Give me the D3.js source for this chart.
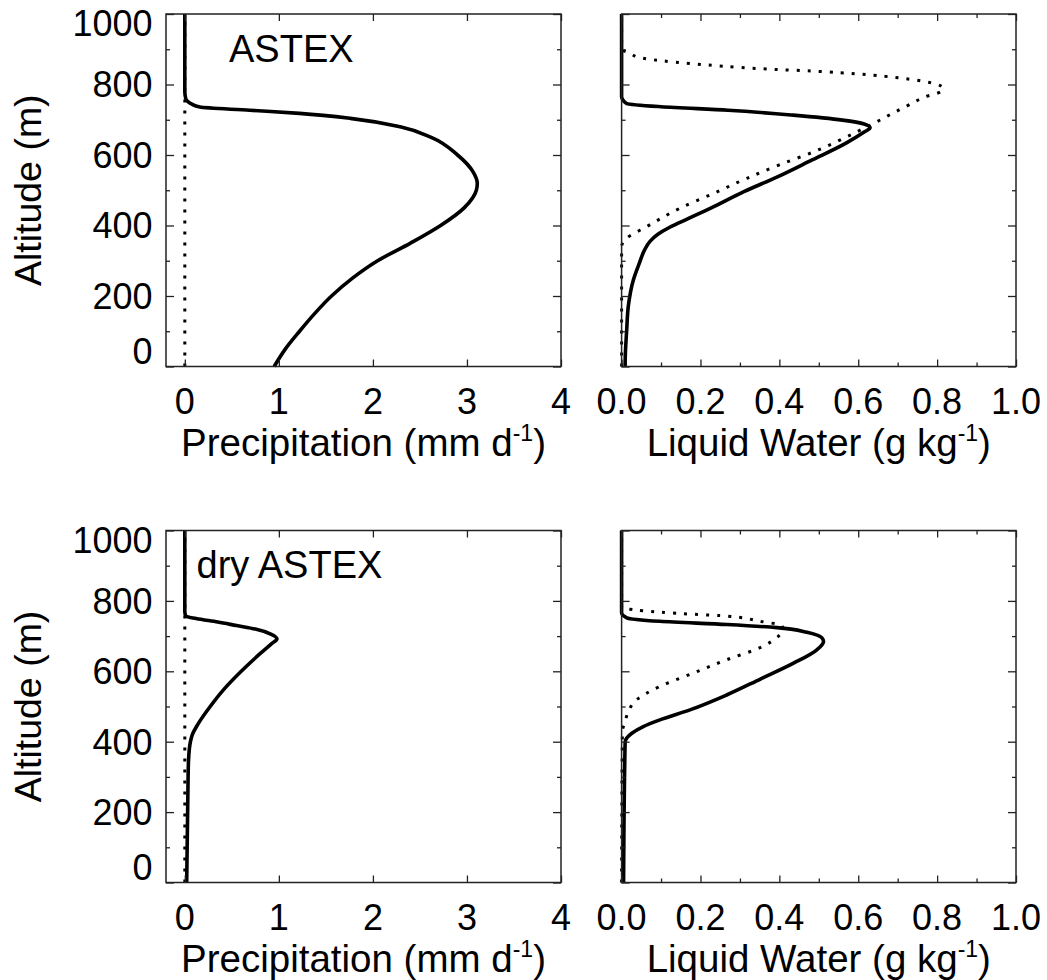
<!DOCTYPE html>
<html>
<head>
<meta charset="utf-8">
<script src="https://cdn.jsdelivr.net/npm/d3@7"></script>
<style>
  body { margin: 0; background: #fff; }
  svg { display: block; }
  text { font-family: "Liberation Sans", Arial, Helvetica, sans-serif; fill: #000; }
</style>
</head>
<body>
<svg width="1047" height="980"></svg>
<script>
// ---- data (altitude in m) ----
// ASTEX, precipitation (mm/d)
var astexPrecipAlt = [0, 50, 100, 150, 200, 250, 300, 350, 400, 450, 500, 520, 550, 600, 650, 680, 704, 718, 727, 736, 745, 752, 760, 780, 1000];
var astexPrecipVal = [0.95, 1.07, 1.22, 1.38, 1.56, 1.78, 2.05, 2.40, 2.72, 2.97, 3.10, 3.11, 3.07, 2.90, 2.62, 2.29, 1.76, 1.22, 0.69, 0.16, 0.07, 0.03, 0.01, 0, 0];
var astexPrecipDotAlt = [0, 1000];
var astexPrecipDotVal = [0, 0];

// ASTEX, liquid water (g/kg)
var astexLwAlt = [0, 10, 105, 171, 246, 293, 330, 355, 375, 395, 420, 449, 496, 538, 586, 633, 665, 677, 688, 699, 713, 727, 737, 746, 755, 765, 1000];
var astexLwVal = [0.009, 0.009, 0.013, 0.017, 0.03, 0.045, 0.058, 0.072, 0.092, 0.122, 0.17, 0.226, 0.31, 0.395, 0.483, 0.568, 0.615, 0.63, 0.615, 0.56, 0.435, 0.27, 0.10, 0.013, 0.004, 0, 0];
var astexLwDotAlt = [0, 340, 364, 397, 449, 491, 534, 572, 609, 666, 679, 700, 720, 740, 765, 780, 790, 800, 815, 826, 836, 845, 859, 876, 889, 900, 1000];
var astexLwDotVal = [0, 0, 0.013, 0.064, 0.148, 0.233, 0.318, 0.40, 0.487, 0.597, 0.62, 0.657, 0.69, 0.725, 0.77, 0.81, 0.815, 0.80, 0.73, 0.64, 0.52, 0.35, 0.18, 0.047, 0.021, 0, 0];

// dry ASTEX, precipitation (mm/d)
var dryPrecipAlt = [0, 100, 200, 300, 350, 400, 420, 450, 500, 550, 600, 650, 680, 692, 705, 720, 730, 740, 750, 757, 770, 1000];
var dryPrecipVal = [0.02, 0.025, 0.03, 0.035, 0.04, 0.06, 0.08, 0.14, 0.27, 0.42, 0.60, 0.80, 0.93, 0.98, 0.92, 0.75, 0.55, 0.35, 0.12, 0.01, 0, 0];
var dryPrecipDotAlt = [0, 1000];
var dryPrecipDotVal = [0, 0];

// dry ASTEX, liquid water (g/kg)
var dryLwAlt = [0, 400, 424, 443, 462, 491, 532, 578, 623, 661, 685, 695, 711, 724, 733, 742, 752, 766, 1000];
var dryLwVal = [0.005, 0.009, 0.026, 0.055, 0.097, 0.175, 0.265, 0.352, 0.436, 0.495, 0.512, 0.508, 0.47, 0.394, 0.267, 0.097, 0.013, 0, 0];
var dryLwDotAlt = [0, 430, 457, 486, 519, 557, 595, 633, 667, 700, 715, 730, 742, 757, 762, 768, 775, 780, 1000];
var dryLwDotVal = [0, 0.002, 0.009, 0.017, 0.038, 0.097, 0.182, 0.267, 0.351, 0.398, 0.41, 0.406, 0.351, 0.267, 0.182, 0.097, 0.03, 0, 0];

// ticks / labels
var altTicks = [0, 200, 400, 600, 800, 1000];
var precipTicks = [0, 1, 2, 3, 4];
var lwTicks = [0, 0.2, 0.4, 0.6, 0.8, 1.0];
var caseNames = ["ASTEX", "dry ASTEX"];

var svg = d3.select("svg");
var tickFont = 36, titleFont = 38.5;

var xPrecip = d3.scaleLinear().domain([-0.2, 4]).range([166, 561]);
var xLw = d3.scaleLinear().domain([0, 1]).range([621.6, 1016]);
var yTop = d3.scaleLinear().domain([0, 1000]).range([366.5, 14]);
var yBot = d3.scaleLinear().domain([0, 1000]).range([882.5, 530.5]);

function zip(alt, val) { return alt.map(function (a, i) { return [val[i], a]; }); }

function drawPanel(x, y, kind, lines, showY) {
  var g = svg.append("g");
  var x0 = x.range()[0], x1 = x.range()[1], yb = y.range()[0], yt = y.range()[1];

  // data lines
  var line = d3.line()
    .x(function (d) { return x(d[0]); })
    .y(function (d) { return y(d[1]); })
    .curve(d3.curveMonotoneY);
  lines.forEach(function (l) {
    g.append("path")
      .attr("d", line(l.data))
      .attr("fill", "none")
      .attr("stroke", "#000")
      .attr("stroke-width", l.dotted ? 3 : 3.6)
      .attr("stroke-dasharray", l.dotted ? "3,8" : null)
      .attr("stroke-linejoin", "round");
  });

  // ticks (inward, all four sides)
  var minorY = d3.range(0, 1001, 100).filter(function (v) { return v % 200 !== 0; });
  function yAxis(vals, len) {
    g.append("g").attr("transform", "translate(" + x0 + ",0)")
      .call(d3.axisRight(y).tickValues(vals).tickSize(len).tickFormat(""));
    g.append("g").attr("transform", "translate(" + x1 + ",0)")
      .call(d3.axisLeft(y).tickValues(vals).tickSize(len).tickFormat(""));
  }
  yAxis(altTicks, 8);
  yAxis(minorY, 4);

  var xMajor = kind === "p" ? precipTicks : lwTicks;
  var xMinor = kind === "p" ? [] : d3.range(1, 10, 2).map(function (v) { return v / 10; });
  function xAxis(vals, len) {
    g.append("g").attr("transform", "translate(0," + yb + ")")
      .call(d3.axisTop(x).tickValues(vals).tickSize(len).tickFormat(""));
    g.append("g").attr("transform", "translate(0," + yt + ")")
      .call(d3.axisBottom(x).tickValues(vals).tickSize(len).tickFormat(""));
  }
  xAxis(xMajor, 7);
  if (xMinor.length) xAxis(xMinor, 4);
  g.selectAll(".domain").remove();
  g.selectAll(".tick line").attr("stroke", "#222").attr("stroke-width", 1.3);

  // frame
  g.append("rect")
    .attr("x", x0).attr("y", yt)
    .attr("width", x1 - x0).attr("height", yb - yt)
    .attr("fill", "none").attr("stroke", "#222").attr("stroke-width", 1.5);

  // x tick labels
  g.selectAll(".xl").data(xMajor).enter().append("text")
    .attr("x", function (d) { return x(d); })
    .attr("y", yb + 47)
    .attr("text-anchor", "middle")
    .style("font-size", tickFont + "px")
    .text(function (d) { return kind === "p" ? d3.format("d")(d) : d3.format(".1f")(d); });

  // x title
  var t = g.append("text")
    .attr("x", (x0 + x1) / 2)
    .attr("y", yb + 89)
    .attr("text-anchor", "middle")
    .style("font-size", titleFont + "px");
  t.append("tspan").text(kind === "p" ? "Precipitation (mm d" : "Liquid Water (g kg");
  t.append("tspan").attr("dy", -15).style("font-size", "23px").text("-1");
  t.append("tspan").attr("dy", 15).text(")");

  if (showY) {
    g.selectAll(".yl").data(altTicks).enter().append("text")
      .attr("x", 152.5)
      .attr("y", function (d) {
        var cy = y(d);
        if (d === 1000) cy = yt + 9.5;
        if (d === 0) cy = yb - 15;
        return cy + 0.358 * tickFont;
      })
      .attr("text-anchor", "end")
      .style("font-size", tickFont + "px")
      .text(function (d) { return d; });

    g.append("text")
      .attr("transform", "translate(41," + (yt + yb) / 2 + ") rotate(-90)")
      .attr("text-anchor", "middle")
      .style("font-size", "37.5px")
      .text("Altitude (m)");
  }
}

drawPanel(xPrecip, yTop, "p", [
  { data: zip(astexPrecipDotAlt, astexPrecipDotVal), dotted: true },
  { data: zip(astexPrecipAlt, astexPrecipVal), dotted: false }
], true);
drawPanel(xLw, yTop, "l", [
  { data: zip(astexLwAlt, astexLwVal), dotted: false },
  { data: zip(astexLwDotAlt, astexLwDotVal), dotted: true }
], false);
drawPanel(xPrecip, yBot, "p", [
  { data: zip(dryPrecipDotAlt, dryPrecipDotVal), dotted: true },
  { data: zip(dryPrecipAlt, dryPrecipVal), dotted: false }
], true);
drawPanel(xLw, yBot, "l", [
  { data: zip(dryLwAlt, dryLwVal), dotted: false },
  { data: zip(dryLwDotAlt, dryLwDotVal), dotted: true }
], false);

// case labels
svg.append("text").attr("x", 229).attr("y", 62).style("font-size", "38px").text(caseNames[0]);
svg.append("text").attr("x", 196.5).attr("y", 578).style("font-size", "38px").text(caseNames[1]);
</script>
</body>
</html>
